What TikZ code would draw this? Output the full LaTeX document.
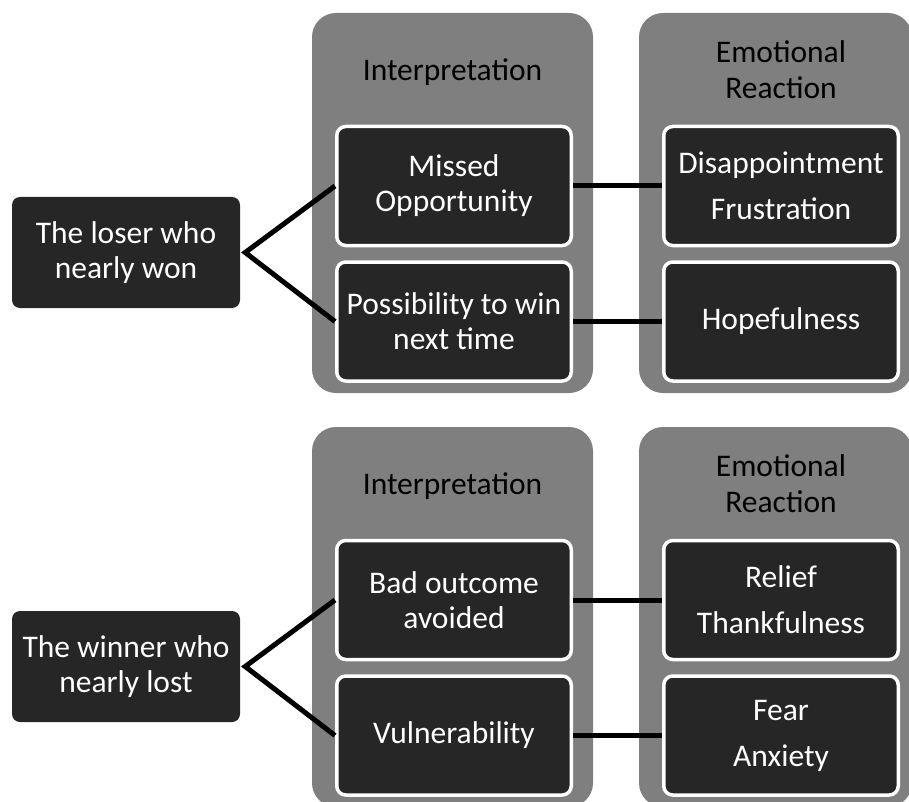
\documentclass[tikz,border=0pt]{standalone}
\usepackage{fontspec}
\setmainfont{Carlito}
\usepackage{tikz}

\definecolor{panelgray}{HTML}{7F7F7F}
\definecolor{boxdark}{HTML}{262626}

\begin{document}
\begin{tikzpicture}[x=1pt,y=-1pt,
    panel/.style={fill=panelgray,rounded corners=24pt},
    heading/.style={align=center,text=black,font=\fontsize{31.5}{36}\selectfont},
    item/.style={draw=white,line width=3.5pt,fill=boxdark,rounded corners=9pt,
      minimum width=234.5pt,minimum height=119pt,inner sep=0pt,
      align=center,text=white,font=\fontsize{31.5}{35}\selectfont},
    person/.style={fill=boxdark,rounded corners=8pt,minimum width=228pt,
      minimum height=111pt,inner sep=0pt,align=center,text=white,
      font=\fontsize{31.5}{35}\selectfont},
    link/.style={line width=5pt}]
  \useasboundingbox (0,0) rectangle (909,802);
  \clip (0,0) rectangle (909,802);

  \foreach \dy in {0,414} {
    \fill[panel] (312,13+\dy) rectangle (593,393+\dy);
    \fill[panel] (639,13+\dy) rectangle (912,393+\dy);
    \node[heading] (interp\dy) at (452.5,72+\dy) {Interpretation};
    \node[heading] (react\dy) at (781,70+\dy) {Emotional\\Reaction};
  }

  \node[person] (loser) at (126,252.5) {The loser who\\nearly won};
  \node[item] (missed) at (454,186) {Missed\\Opportunity};
  \node[item] (chance) at (454,321.5) {Possibility to win\\next time};
  \node[item] (letdown) at (781,186) {Disappointment\\[11pt]Frustration};
  \node[item] (hope) at (781,321.5) {Hopefulness};

  \node[person] (winner) at (126,666.5) {The winner who\\nearly lost};
  \node[item] (avoided) at (454,600) {Bad outcome\\avoided};
  \node[item] (weak) at (454,735.5) {Vulnerability};
  \node[item] (relief) at (781,600) {Relief\\[11pt]Thankfulness};
  \node[item] (fear) at (781,735.5) {Fear\\[11pt]Anxiety};

  \draw[link] (missed.west) -- ([xshift=5pt]loser.east) -- (chance.west);
  \draw[link] (avoided.west) -- ([xshift=5pt]winner.east) -- (weak.west);
  \draw[link] (missed.east) -- (letdown.west);
  \draw[link] (chance.east) -- (hope.west);
  \draw[link] (avoided.east) -- (relief.west);
  \draw[link] (weak.east) -- (fear.west);
\end{tikzpicture}
\end{document}
